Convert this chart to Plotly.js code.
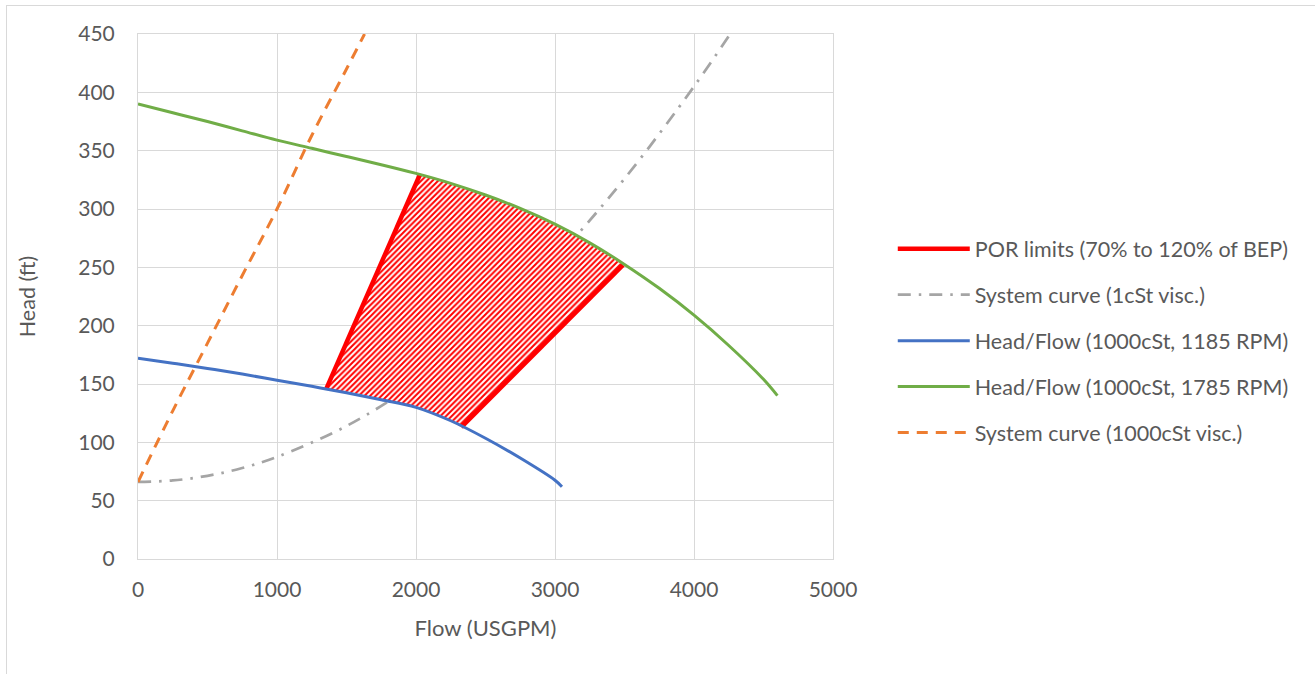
<!DOCTYPE html>
<html>
<head>
<meta charset="utf-8">
<script src="https://cdn.plot.ly/plotly-3.0.1.min.js"></script>
<style>
  html, body { margin: 0; padding: 0; background: #ffffff; }
  #frame { position: absolute; left: 6px; top: 5px; width: 1400px; height: 800px;
           border-left: 1px solid #d9d9d9; border-top: 1px solid #d9d9d9; }
  #chart { position: absolute; left: 0; top: 0; width: 1315px; height: 674px; }
</style>
</head>
<body>
<div id="frame"></div>
<div id="chart"></div>
<script>
// Pump head/flow curves at 1000 cSt, two speeds
const flow1785 = [0, 250, 500, 750, 1000, 1250, 1500, 1750, 2000, 2250, 2500, 2750, 3000, 3250, 3500, 3750, 4000, 4250, 4500, 4600];
const head1785 = [390, 382.5, 375, 367, 359, 352, 345, 338, 330.5, 322, 312, 300.5, 287, 271, 252.5, 232, 209, 183, 154, 140];

const flow1185 = [0, 250, 500, 750, 1000, 1250, 1500, 1750, 2000, 2250, 2500, 2750, 3000, 3050];
const head1185 = [172, 167.8, 163.3, 158.5, 153.3, 148, 142.5, 136.5, 130, 118.5, 103.5, 86.5, 67.5, 62];

// System curves
const flowSys1 = [0, 250, 500, 750, 1000, 1500, 2000, 2500, 3000, 3500, 4000, 4260];
const headSys1 = [66, 67.3, 71.3, 78, 87.5, 114, 151, 198.5, 257, 326, 405, 450];

const flowSys1000 = [0, 250, 500, 750, 1000, 1250, 1500, 1630];
const headSys1000 = [66, 127, 185, 243, 300, 363, 420, 450];

// Preferred operating region limits: [on 1185 RPM curve, on 1785 RPM curve]
const porLowFlow = [1355, 2030];   // 70% of BEP
const porLowHead = [146, 330];
const porHighFlow = [2326, 3490];  // 120% of BEP
const porHighHead = [113, 252];

const legendNames = [
  'POR limits (70% to 120% of BEP)',
  'System curve (1cSt visc.)',
  'Head/Flow (1000cSt, 1185 RPM)',
  'Head/Flow (1000cSt, 1785 RPM)',
  'System curve (1000cSt visc.)'
];

// Outline of the hatched region: 70% line up, along 1785 curve, 120% line down, back along 1185 curve
const regionX = [], regionY = [];
regionX.push(porLowFlow[0], porLowFlow[1]);
regionY.push(porLowHead[0], porLowHead[1]);
flow1785.forEach((q, i) => {
  if (q > porLowFlow[1] && q < porHighFlow[1]) { regionX.push(q); regionY.push(head1785[i]); }
});
regionX.push(porHighFlow[1], porHighFlow[0]);
regionY.push(porHighHead[1], porHighHead[0]);
for (let i = flow1185.length - 1; i >= 0; i--) {
  const q = flow1185[i];
  if (q < porHighFlow[0] && q > porLowFlow[0]) { regionX.push(q); regionY.push(head1185[i]); }
}
regionX.push(porLowFlow[0]);
regionY.push(porLowHead[0]);

const FONT = 'Lato, "Open Sans", sans-serif';
const TXT = '#595959';
const GRID = '#d9d9d9';

const traces = [
  {
    x: flowSys1, y: headSys1, type: 'scatter', mode: 'lines', name: legendNames[1],
    legendgroup: 'g1', legendrank: 2,
    line: { color: '#a5a5a5', width: 2.75, dash: '13px,8px,2.5px,8px', shape: 'spline' }
  },
  {
    x: regionX, y: regionY, type: 'scatter', mode: 'none', fill: 'toself',
    fillcolor: '#ffffff',
    fillpattern: { shape: '/', fgcolor: '#ff0000', bgcolor: '#ffffff', size: 4, solidity: 0.5 },
    showlegend: false, hoverinfo: 'skip'
  },
  {
    x: [porLowFlow[0], porLowFlow[1], null, porHighFlow[0], porHighFlow[1]],
    y: [porLowHead[0], porLowHead[1], null, porHighHead[0], porHighHead[1]],
    type: 'scatter', mode: 'lines', name: legendNames[0], legendgroup: 'g0', legendrank: 1,
    line: { color: '#ff0000', width: 4.5 }, connectgaps: false
  },
  {
    x: flow1185, y: head1185, type: 'scatter', mode: 'lines', name: legendNames[2],
    legendgroup: 'g2', legendrank: 3,
    line: { color: '#4472c4', width: 3, shape: 'spline' }
  },
  {
    x: flow1785, y: head1785, type: 'scatter', mode: 'lines', name: legendNames[3],
    legendgroup: 'g3', legendrank: 4,
    line: { color: '#70ad47', width: 3, shape: 'spline' }
  },
  {
    x: flowSys1000, y: headSys1000, type: 'scatter', mode: 'lines', name: legendNames[4],
    legendgroup: 'g4', legendrank: 5,
    line: { color: '#ed7d31', width: 3, dash: '11px,8px', shape: 'spline' }
  }
];

const layout = {
  width: 1315, height: 674,
  paper_bgcolor: 'rgba(0,0,0,0)', plot_bgcolor: 'rgba(0,0,0,0)',
  margin: { l: 138, r: 482, t: 34, b: 115 },
  font: { family: FONT, color: TXT, size: 21 },
  showlegend: true,
  legend: {
    x: 1.086, xanchor: 'left', y: 0.63, yanchor: 'top',
    font: { family: FONT, color: TXT, size: 21.5 },
    traceorder: 'grouped', tracegroupgap: 15, itemwidth: 72, bgcolor: 'rgba(0,0,0,0)'
  },
  xaxis: {
    range: [0, 5000], dtick: 1000, tick0: 0,
    showgrid: true, gridcolor: GRID, gridwidth: 1,
    showline: true, linecolor: GRID, linewidth: 1, mirror: true,
    zeroline: false, ticks: '', ticklabelstandoff: 12,
    tickfont: { family: FONT, color: TXT, size: 21 },
    title: { text: 'Flow (USGPM)', font: { family: FONT, color: TXT, size: 22 }, standoff: 20 }
  },
  yaxis: {
    range: [0, 450], dtick: 50, tick0: 0,
    showgrid: true, gridcolor: GRID, gridwidth: 1,
    showline: true, linecolor: GRID, linewidth: 1, mirror: true,
    zeroline: false, ticks: '', ticklabelstandoff: 18,
    tickfont: { family: FONT, color: TXT, size: 21 },
    title: { text: 'Head (ft)', font: { family: FONT, color: TXT, size: 21.5 }, standoff: 36 }
  }
};

Plotly.newPlot('chart', traces, layout, { displayModeBar: false, staticPlot: true });
</script>
</body>
</html>
